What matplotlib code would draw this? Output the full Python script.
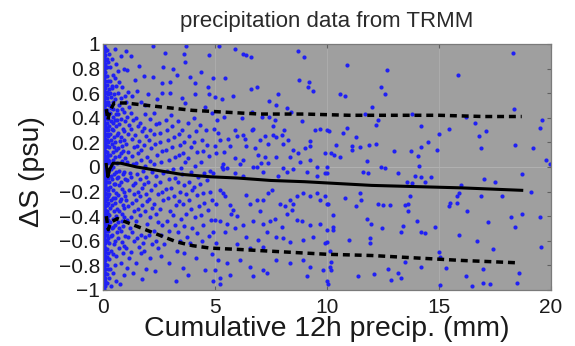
import numpy as np
import matplotlib
matplotlib.use('Agg')
import matplotlib.pyplot as plt

plt.rcParams['font.family'] = ['Liberation Sans', 'DejaVu Sans']

# --- scatter data: (precip mm, salinity change psu) ---
# zero-precip band hugging the left axis
band_x = [0.05, 0.11, 0.18, 0.24]
band_y = [
    [-0.99, -0.95, -0.92, -0.88, -0.85, -0.81, -0.78, -0.74, -0.71, -0.68, -0.64, -0.61,
     -0.57, -0.54, -0.5, -0.47, -0.44, -0.4, -0.37, -0.33, -0.3, -0.27, -0.23, -0.2,
     -0.16, -0.13, -0.1, -0.06, -0.03, 0.01, 0.04, 0.07, 0.11, 0.14, 0.18, 0.21, 0.24,
     0.28, 0.31, 0.35, 0.38, 0.41, 0.45, 0.48, 0.52, 0.55, 0.58, 0.62, 0.65, 0.69, 0.72,
     0.75, 0.79, 0.82, 0.86, 0.89, 0.92, 0.96, 0.99],
    [-0.97, -0.93, -0.9, -0.86, -0.83, -0.79, -0.76, -0.72, -0.69, -0.66, -0.62, -0.59,
     -0.55, -0.52, -0.49, -0.45, -0.42, -0.38, -0.35, -0.32, -0.28, -0.25, -0.21, -0.18,
     -0.15, -0.11, -0.08, -0.04, -0.01, 0.02, 0.06, 0.09, 0.13, 0.16, 0.19, 0.23, 0.26,
     0.3, 0.33, 0.36, 0.4, 0.43, 0.47, 0.5, 0.53, 0.57, 0.6, 0.64, 0.67, 0.7, 0.74, 0.77,
     0.81, 0.84, 0.87, 0.91, 0.94, 0.97],
    [-0.94, -0.87, -0.8, -0.73, -0.67, -0.6, -0.55, -0.5, -0.46, -0.41, -0.36, -0.31,
     -0.26, -0.22, -0.17, -0.12, -0.07, -0.02, 0.03, 0.08, 0.12, 0.17, 0.22, 0.27, 0.32,
     0.36, 0.41, 0.46, 0.51, 0.56, 0.61, 0.67, 0.74, 0.81, 0.88, 0.95],
    [-0.83, -0.7, -0.58, -0.52, -0.43, -0.38, -0.29, -0.24, -0.19, -0.09, -0.04, 0.06,
     0.1, 0.2, 0.25, 0.3, 0.39, 0.43, 0.53, 0.59, 0.7, 0.85],
]

pts_0_1 = [
    (0.26, 0.92), (0.3, 0.81), (0.33, 0.7), (0.28, 0.63), (0.36, 0.57), (0.27, 0.5), (0.31, 0.44),
    (0.35, 0.37), (0.26, 0.33), (0.3, 0.27), (0.38, 0.22), (0.27, 0.16), (0.33, 0.1), (0.29, 0.05),
    (0.37, -0.02), (0.26, -0.12), (0.32, -0.16), (0.28, -0.22), (0.36, -0.27), (0.3, -0.33),
    (0.27, -0.39), (0.34, -0.56), (0.29, -0.62), (0.37, -0.68), (0.27, -0.75), (0.32, -0.83),
    (0.28, -0.9), (0.35, -0.97), (0.34, 0.48), (0.39, 0.31), (0.33, -0.45), (0.38, -0.07),
    (0.31, 0.6), (0.36, 0.02), (0.39, -0.5), (0.4, 0.66),
    (0.42, 0.88), (0.45, 0.75), (0.41, 0.64), (0.48, 0.59), (0.43, 0.47), (0.47, 0.41), (0.44, 0.3),
    (0.49, 0.24), (0.41, 0.19), (0.46, 0.12), (0.43, 0.06), (0.48, -0.06), (0.42, -0.1), (0.47, -0.19),
    (0.44, -0.25), (0.41, -0.31), (0.49, -0.36), (0.45, -0.49), (0.42, -0.55), (0.48, -0.63),
    (0.44, -0.71), (0.47, -0.86), (0.46, 0.53), (0.43, 0.36), (0.5, 0.16), (0.46, -0.42),
    (0.51, -0.14), (0.44, 0.0),
    (0.54, 0.96), (0.57, 0.84), (0.52, 0.72), (0.59, 0.66), (0.55, 0.55), (0.61, 0.46), (0.53, 0.38),
    (0.58, 0.33), (0.62, 0.26), (0.55, 0.2), (0.6, 0.14), (0.53, 0.08), (0.58, -0.04), (0.63, -0.09),
    (0.55, -0.14), (0.6, -0.21), (0.54, -0.29), (0.61, -0.34), (0.57, -0.4), (0.53, -0.47),
    (0.62, -0.53), (0.56, -0.6), (0.6, -0.72), (0.54, -0.8), (0.58, -0.93), (0.57, 0.43),
    (0.64, 0.38), (0.56, -0.25), (0.63, 0.03),
    (0.66, 0.78), (0.7, 0.69), (0.68, 0.6), (0.73, 0.5), (0.67, 0.43), (0.72, 0.35), (0.69, 0.28),
    (0.75, 0.21), (0.67, 0.15), (0.71, 0.09), (0.74, -0.03), (0.68, -0.08), (0.72, -0.15),
    (0.66, -0.23), (0.75, -0.28), (0.7, -0.36), (0.67, -0.45), (0.74, -0.5), (0.69, -0.58),
    (0.72, -0.66), (0.76, -0.95),
    (0.8, 0.9), (0.84, 0.65), (0.79, 0.56), (0.86, 0.47), (0.81, 0.39), (0.88, 0.31), (0.82, 0.24),
    (0.87, 0.17), (0.8, 0.11), (0.85, 0.05), (0.89, -0.06), (0.81, -0.12), (0.86, -0.18), (0.8, -0.26),
    (0.88, -0.31), (0.83, -0.38), (0.87, -0.44), (0.81, -0.52), (0.85, -0.61), (0.89, -0.7),
    (0.82, -0.78),
    (0.93, 0.8), (0.97, 0.58), (0.92, 0.45), (0.98, 0.37), (0.94, 0.29), (0.96, 0.22), (0.91, 0.13),
    (0.99, 0.07), (0.94, -0.04), (0.97, -0.1), (0.92, -0.2), (0.98, -0.24), (0.93, -0.33),
    (0.96, -0.41), (0.91, -0.48), (0.99, -0.56), (0.95, -0.64), (0.93, -0.88),
]

pts_1_2 = [
    (1.05, 0.94), (1.08, 0.79), (1.12, 0.61), (1.04, 0.53), (1.15, 0.49), (1.07, 0.41), (1.18, 0.34),
    (1.1, 0.27), (1.03, 0.19), (1.14, 0.12), (1.06, 0.04), (1.19, -0.05), (1.09, -0.11), (1.16, -0.19),
    (1.02, -0.27), (1.13, -0.32), (1.07, -0.43), (1.2, -0.5), (1.11, -0.57), (1.04, -0.66),
    (1.17, -0.74), (1.09, -0.82),
    (1.25, 0.9), (1.3, 0.58), (1.27, 0.44), (1.34, 0.38), (1.24, 0.31), (1.32, 0.23), (1.38, 0.16),
    (1.28, 0.09), (1.36, 0.02), (1.26, -0.08), (1.33, -0.15), (1.4, -0.22), (1.29, -0.29),
    (1.37, -0.36), (1.25, -0.41), (1.31, -0.53), (1.39, -0.6), (1.27, -0.69), (1.35, -0.86),
    (1.45, 0.71), (1.52, 0.62), (1.48, 0.4), (1.55, 0.33), (1.44, 0.26), (1.5, 0.17), (1.58, 0.11),
    (1.47, 0.03), (1.54, -0.06), (1.43, -0.13), (1.57, -0.2), (1.49, -0.27), (1.56, -0.34),
    (1.46, -0.44), (1.53, -0.58), (1.59, -0.65), (1.48, -0.78),
    (1.63, 0.82), (1.7, 0.53), (1.66, 0.36), (1.74, 0.29), (1.62, 0.21), (1.72, 0.14), (1.68, 0.06),
    (1.77, -0.03), (1.64, -0.1), (1.73, -0.17), (1.67, -0.24), (1.75, -0.31), (1.65, -0.39),
    (1.71, -0.55), (1.78, -0.62), (1.69, -0.7), (1.76, -0.91),
    (1.83, 0.74), (1.88, 0.5), (1.9, 0.43), (1.85, 0.32), (1.93, 0.25), (1.82, 0.18), (1.96, 0.08),
    (1.87, 0.01), (1.94, -0.08), (1.84, -0.14), (1.91, -0.22), (1.97, -0.28), (1.86, -0.36),
    (1.95, -0.46), (1.89, -0.57), (1.84, -0.68), (1.92, -0.83),
]

pts_2_5 = [
    (2.02, 0.59), (2.08, 0.39), (2.12, 0.3), (2.05, 0.22), (2.15, 0.15), (2.1, 0.05), (2.18, -0.04),
    (2.03, -0.12), (2.14, -0.19), (2.07, -0.26), (2.2, -0.33), (2.11, -0.41), (2.04, -0.55),
    (2.17, -0.63), (2.09, -0.74), (2.25, 0.98), (2.25, 0.73), (2.3, 0.44), (2.36, 0.35), (2.28, 0.27),
    (2.4, 0.55), (2.33, 0.19), (2.42, 0.1), (2.27, 0.02), (2.38, -0.07), (2.31, -0.15), (2.44, -0.22),
    (2.26, -0.3), (2.35, -0.38), (2.45, -0.45), (2.29, -0.52), (2.39, -0.6), (2.47, -0.66),
    (2.32, -0.85),
    (2.52, 0.36), (2.57, 0.28), (2.62, 0.68), (2.62, 0.6), (2.55, 0.2), (2.65, 0.13), (2.59, 0.04),
    (2.68, -0.05), (2.53, -0.12), (2.63, -0.2), (2.7, -0.27), (2.56, -0.34), (2.66, -0.47),
    (2.6, -0.55), (2.72, -0.63), (2.58, -0.72), (2.77, 0.93), (2.7, 0.81),
    (2.8, 0.38), (2.86, 0.3), (2.92, 0.22), (2.83, 0.14), (2.95, 0.06), (2.88, -0.03), (2.97, -0.1),
    (2.82, -0.18), (2.9, -0.25), (2.99, -0.36), (2.85, -0.44), (2.93, -0.52), (2.96, -0.78),
    (3.0, 0.69), (3.0, 0.6),
    (3.05, 0.42), (3.1, 0.33), (3.14, 0.8), (3.18, 0.24), (3.08, 0.16), (3.2, 0.08), (3.12, -0.02),
    (3.24, -0.09), (3.06, -0.17), (3.16, -0.24), (3.27, -0.31), (3.11, -0.39), (3.22, -0.47),
    (3.29, 0.75), (3.3, -0.68), (3.26, -0.93),
    (3.35, 0.37), (3.4, 0.27), (3.44, 0.18), (3.38, 0.1), (3.47, -0.01), (3.36, -0.12), (3.45, -0.2),
    (3.41, -0.28), (3.48, -0.42), (3.37, -0.53), (3.43, -0.6),
    (3.51, 0.56), (3.6, 0.92), (3.66, 0.85), (3.7, 0.98), (3.66, 0.52), (3.55, 0.3), (3.62, 0.2),
    (3.58, 0.11), (3.68, 0.04), (3.53, -0.06), (3.64, -0.15), (3.72, -0.22), (3.57, -0.3),
    (3.69, -0.38), (3.6, -0.48), (3.74, -0.57), (3.63, -0.7), (3.56, -0.82),
    (3.8, 0.36), (3.88, 0.73), (3.85, 0.25), (3.92, 0.16), (3.82, 0.07), (3.95, -0.04), (3.86, -0.12),
    (3.98, -0.19), (3.84, -0.27), (3.93, -0.34), (3.97, -0.5), (3.89, -0.62), (3.81, -0.88),
    (4.05, 0.4), (4.11, 0.68), (4.11, 0.59), (4.15, 0.29), (4.08, 0.2), (4.2, 0.12), (4.13, 0.01),
    (4.24, -0.08), (4.06, -0.16), (4.18, -0.23), (4.27, -0.32), (4.1, -0.41), (4.22, -0.54),
    (4.16, -0.74),
    (4.35, 0.34), (4.4, 0.77), (4.42, 0.22), (4.48, 0.13), (4.38, 0.04), (4.5, -0.05), (4.55, 0.49),
    (4.33, -0.14), (4.45, -0.21), (4.52, -0.29), (4.37, -0.39), (4.47, -0.47), (4.43, -0.6),
    (4.54, -0.84),
    (4.62, 0.3), (4.7, 0.65), (4.75, 0.91), (4.75, 0.59), (4.66, 0.18), (4.72, 0.09), (4.85, 0.44),
    (4.8, -0.03), (4.64, -0.11), (4.77, -0.2), (4.86, -0.27), (4.69, -0.35), (4.82, -0.43),
    (4.74, -0.56), (4.88, -0.71), (4.9, -0.93),
]

pts_5_10_up = [
    (5.2, 0.98), (5.9, 0.96), (6.25, 0.92), (6.4, 0.91), (6.6, 0.89), (8.7, 0.94), (9.0, 0.89),
    (4.9, 0.72), (5.45, 0.72), (6.9, 0.65), (6.6, 0.63), (8.75, 0.71), (9.2, 0.69), (9.15, 0.65),
    (9.4, 0.62), (5.0, 0.57), (5.3, 0.55), (5.8, 0.58), (7.4, 0.54), (7.8, 0.59), (7.75, 0.5),
    (8.2, 0.48), (8.4, 0.45), (5.1, 0.38), (5.4, 0.41), (6.2, 0.4), (6.65, 0.45), (7.1, 0.41),
    (7.4, 0.41), (7.7, 0.38), (7.6, 0.33), (8.9, 0.37), (8.1, 0.3),
    (4.96, 0.31), (5.15, 0.28), (5.22, 0.22), (5.0, 0.17), (5.07, 0.11), (5.4, 0.12), (5.6, 0.23),
    (5.9, 0.3), (5.97, 0.25), (6.26, 0.26), (6.34, 0.23), (6.64, 0.3), (6.71, 0.31), (7.0, 0.22),
    (7.23, 0.25), (7.38, 0.19), (7.6, 0.26), (7.75, 0.24), (7.98, 0.26), (8.05, 0.19), (8.27, 0.22),
    (8.5, 0.14), (8.72, 0.11), (9.02, 0.15), (9.24, 0.17), (9.24, 0.21), (9.46, 0.3), (9.69, 0.31),
    (9.99, 0.3), (9.9, 0.11), (9.24, 0.06), (9.54, 0.0), (8.35, 0.08), (7.75, 0.08), (7.23, 0.08),
    (6.93, 0.1), (6.79, 0.15), (6.41, 0.17), (6.26, 0.06), (5.9, 0.07), (5.67, 0.17), (5.37, 0.02),
    (5.52, -0.01), (6.12, 0.02), (6.71, 0.0), (7.08, 0.03), (8.79, 0.04),
]

pts_5_10_low = [
    (4.92, -0.05), (5.37, -0.02), (5.3, 0.0), (5.89, -0.05), (6.27, -0.07), (6.86, 0.0), (7.16, -0.04),
    (7.38, 0.03), (7.83, -0.07), (8.05, -0.01), (8.2, -0.04), (8.5, -0.02), (9.09, -0.04),
    (9.91, -0.05), (9.54, -0.07),
    (5.22, -0.19), (5.37, -0.21), (5.45, -0.24), (5.07, -0.3), (5.67, -0.31), (5.82, -0.35),
    (5.74, -0.38), (6.41, -0.23), (6.56, -0.3), (6.86, -0.27), (7.16, -0.27), (7.38, -0.21),
    (7.53, -0.19), (7.9, -0.3), (8.12, -0.32), (8.35, -0.27), (8.5, -0.3), (8.65, -0.24),
    (8.94, -0.21), (9.24, -0.24), (9.54, -0.21), (9.69, -0.27), (9.99, -0.3),
    (5.0, -0.43), (5.22, -0.44), (5.52, -0.46), (5.97, -0.4), (6.27, -0.47), (6.71, -0.44),
    (7.01, -0.36), (7.16, -0.46), (7.46, -0.44), (7.68, -0.42), (7.98, -0.49), (8.2, -0.38),
    (8.42, -0.35), (8.65, -0.43), (8.87, -0.44), (9.24, -0.47), (9.69, -0.46), (9.99, -0.51),
    (4.92, -0.53), (5.45, -0.53), (5.89, -0.5), (6.41, -0.57), (6.93, -0.59), (7.31, -0.53),
    (7.75, -0.57), (8.05, -0.58), (8.35, -0.61), (8.94, -0.59), (9.39, -0.57), (9.91, -0.62),
    (5.07, -0.62), (5.97, -0.63), (6.56, -0.66), (7.16, -0.65),
    (5.15, -0.76), (5.52, -0.78), (6.12, -0.76), (6.56, -0.81), (7.16, -0.84), (7.75, -0.76),
    (8.35, -0.78), (8.94, -0.76), (9.24, -0.81), (5.0, -0.84), (5.22, -0.9), (5.67, -0.88),
    (6.71, -0.89), (7.31, -0.86), (9.09, -0.89), (9.84, -0.84), (5.22, -0.95),
]

pts_10_20_up = [
    (10.9, 0.83), (12.7, 0.79), (12.4, 0.65), (12.6, 0.59), (10.6, 0.59), (10.8, 0.58), (12.0, 0.49),
    (11.7, 0.43), (13.8, 0.43), (12.3, 0.38), (12.2, 0.34), (10.1, 0.29), (10.7, 0.28), (10.9, 0.32),
    (11.3, 0.24), (14.2, 0.33), (15.0, 0.27), (14.5, 0.2), (10.4, 0.18), (11.1, 0.17), (11.1, 0.14),
    (11.5, 0.16), (11.9, 0.18), (12.2, 0.19), (10.2, 0.11), (10.3, 0.1), (10.6, 0.08), (13.0, 0.13),
    (13.75, 0.13), (14.05, 0.09), (14.2, 0.16), (14.9, 0.14), (11.8, 0.05), (10.0, 0.0), (12.4, 0.0),
    (12.6, -0.01), (14.1, 0.01),
    (18.3, 0.93), (15.85, 0.75), (18.35, 0.47), (16.2, 0.41), (16.6, 0.36), (15.45, 0.31),
    (17.1, 0.29), (16.8, 0.25), (19.6, 0.38), (19.5, 0.32), (16.9, 0.15), (18.4, 0.18), (19.2, 0.15),
    (19.8, 0.06), (19.95, 0.02),
]

pts_10_20_low = [
    (11.62, -0.04), (11.84, -0.05), (13.18, -0.05), (13.56, -0.12), (13.78, -0.13), (13.93, -0.07),
    (14.2, -0.08), (14.37, -0.12), (14.67, -0.08), (9.99, -0.05), (9.91, -0.24), (10.06, -0.3),
    (10.28, -0.39), (10.28, -0.49), (10.28, -0.51), (9.99, -0.61), (10.13, -0.68), (10.2, -0.77),
    (10.13, -0.81), (10.2, -0.84), (9.99, -0.93), (10.8, -0.25), (11.32, -0.32), (11.47, -0.21),
    (11.54, -0.27), (11.77, -0.42), (11.99, -0.46), (11.0, -0.59), (11.92, -0.58), (11.92, -0.62),
    (12.29, -0.3), (12.51, -0.31), (12.81, -0.31), (12.44, -0.5), (13.33, -0.53), (13.4, -0.48),
    (13.48, -0.31), (13.63, -0.3), (13.63, -0.36), (13.7, -0.24), (14.04, -0.44), (14.2, -0.53),
    (14.37, -0.54), (14.82, -0.49), (15.04, -0.73), (14.2, -0.81), (12.73, -0.83), (12.88, -0.92),
    (13.18, -0.86), (13.33, -0.9), (12.11, -0.87), (11.37, -0.89), (15.04, -0.96), (13.48, -0.77),
    (10.06, -0.95),
    (17.0, -0.1), (17.5, -0.12), (16.0, -0.15), (15.9, -0.21), (15.8, -0.24), (15.5, -0.29),
    (15.45, -0.32), (15.8, -0.29), (16.9, -0.24), (17.8, -0.24), (16.25, -0.36), (17.2, -0.45),
    (18.2, -0.41), (18.4, -0.49), (18.7, -0.38), (19.1, -0.2), (19.5, -0.41), (19.55, -0.65),
    (15.9, -0.55), (16.7, -0.6), (17.4, -0.67), (16.95, -0.83), (15.3, -0.82), (16.2, -0.89),
    (16.5, -0.97), (16.95, -0.94), (17.3, -0.95), (18.6, -0.86), (18.5, -0.94), (18.7, -0.06),
    (15.0, -0.69),
]

# binned mean and +/- one std curves
mean_x = [0.15, 0.22, 0.3, 0.45, 0.8, 1.5, 2.5, 3.5, 4.8, 6.0, 7.5, 9.0, 10.0, 12.0, 14.0, 16.0, 18.7]
mean_y = [0.02, -0.08, -0.02, 0.03, 0.03, 0.0, -0.03, -0.06, -0.08, -0.09, -0.11, -0.12, -0.13,
          -0.15, -0.16, -0.17, -0.19]
upper_x = [0.15, 0.22, 0.3, 0.5, 1.0, 2.0, 3.0, 4.0, 5.0, 7.0, 9.0, 11.0, 13.0, 15.0, 17.0, 18.7]
upper_y = [0.47, 0.38, 0.45, 0.52, 0.52, 0.5, 0.48, 0.46, 0.45, 0.43, 0.43, 0.42, 0.42, 0.42, 0.41, 0.41]
lower_x = [0.15, 0.24, 0.35, 0.65, 1.2, 1.9, 2.6, 3.3, 4.0, 4.8, 6.0, 8.0, 10.0, 12.0, 14.0, 16.0, 18.6]
lower_y = [-0.4, -0.51, -0.45, -0.42, -0.46, -0.51, -0.56, -0.61, -0.64, -0.66, -0.67, -0.69, -0.71,
           -0.72, -0.74, -0.76, -0.78]

yticks = [-1, -0.8, -0.6, -0.4, -0.2, 0, 0.2, 0.4, 0.6, 0.8, 1]
ytick_labels = ['\u22121', '\u22120.8', '\u22120.6', '\u22120.4', '\u22120.2', '0',
                '0.2', '0.4', '0.6', '0.8', '1']
xticks = [0, 5, 10, 15, 20]

fig = plt.figure(figsize=(5.75, 3.46), dpi=100, facecolor='white')
ax = fig.add_axes([0.179, 0.162, 0.779, 0.711])
ax.set_facecolor('#9f9f9f')

# faint grid like the original
for xv in xticks[1:-1]:
    ax.axvline(xv, color='#ababab', lw=0.8, zorder=0.5)
ax.axhline(0, color='#b0b0b0', lw=0.8, zorder=0.5)

dot = dict(linestyle='none', marker='o', ms=3.0, mew=0, color='#2020f4', zorder=2)
for bx, by in zip(band_x, band_y):
    ax.plot([bx] * len(by), by, **dot)
for group in [pts_0_1, pts_1_2, pts_2_5, pts_5_10_up, pts_5_10_low, pts_10_20_up, pts_10_20_low]:
    gx, gy = zip(*group)
    ax.plot(gx, gy, **dot)

ax.plot(mean_x, mean_y, color='black', lw=2.2, zorder=3)
ax.plot(upper_x, upper_y, color='black', lw=2.5, ls=(0, (2, 1.4)), zorder=3)
ax.plot(lower_x, lower_y, color='black', lw=2.5, ls=(0, (2, 1.4)), zorder=3)

ax.set_xlim(0, 20)
ax.set_ylim(-1, 1)
ax.set_xticks(xticks)
ax.set_xticklabels([str(t) for t in xticks])
ax.set_yticks(yticks)
ax.set_yticklabels(ytick_labels)
ax.tick_params(direction='in', length=3, width=0.8, color='#606060',
               top=True, right=True, labelsize=15, colors='#1a1a1a')
ax.tick_params(axis='x', pad=6)
ax.tick_params(axis='y', pad=2)
for s in ax.spines.values():
    s.set_color('#7a7a7a')
    s.set_linewidth(0.9)

ax.set_title('precipitation data from TRMM', fontsize=16, color='#2a2a2a', pad=12)
ax.set_xlabel('Cumulative 12h precip. (mm)', fontsize=20.5, color='#1a1a1a')
ax.xaxis.set_label_coords(0.5, -0.105)
ax.set_ylabel('\u0394S (psu)', fontsize=20.5, color='#1a1a1a', va='center')
ax.yaxis.set_label_coords(-0.158, 0.48)

plt.savefig('out.png', dpi=100)
